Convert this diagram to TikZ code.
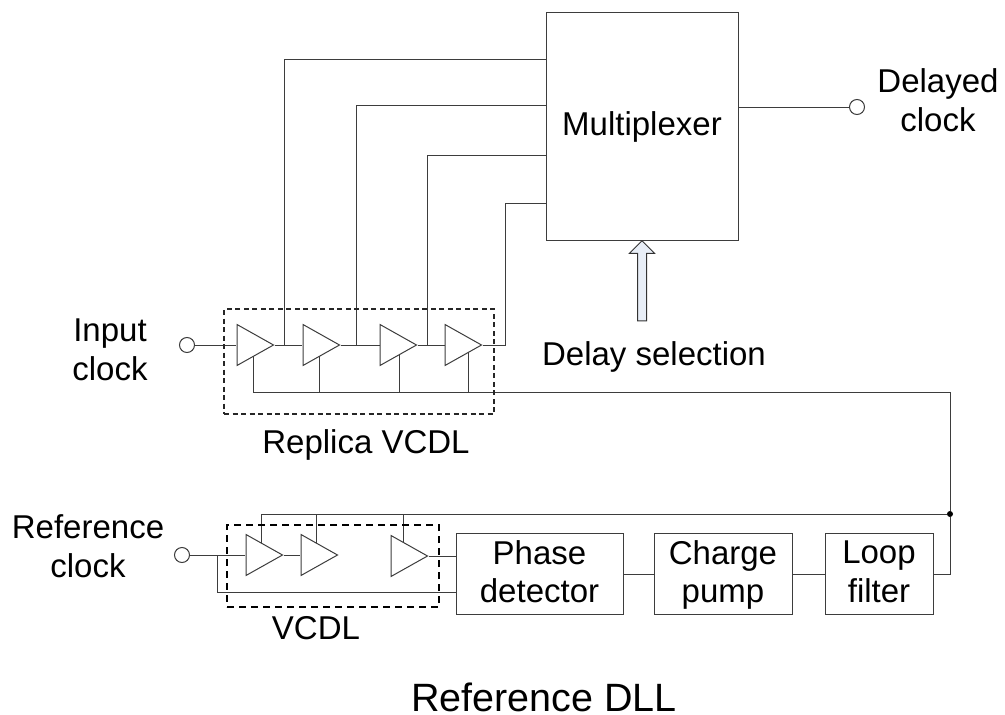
\documentclass[tikz,border=0pt]{standalone}
\usepackage{fontspec}
\setmainfont{Liberation Sans}
\usetikzlibrary{shapes.geometric,shapes.arrows}
\definecolor{arrowfill}{HTML}{E8EEF7}
\tikzset{
  x=1pt,y=-1pt,
  wire/.style={draw=black!76,line width=1pt},
  lbl/.style={inner sep=0pt,align=center,font=\fontsize{33}{38.5}\selectfont},
  block/.style={draw=black!76,line width=1pt,fill=white,inner sep=0pt,align=center,text depth=4pt,font=\fontsize{33}{38.5}\selectfont},
  buf/.style={isosceles triangle,isosceles triangle apex angle=60,isosceles triangle stretches,shape border rotate=0,draw=black!76,line width=1pt,inner sep=0pt,minimum width=41pt,minimum height=36.5pt,fill=white,anchor=apex},
  term/.style={circle,draw=black!76,line width=1pt,fill=white,inner sep=0pt,minimum size=15pt},
  dashbox/.style={draw=black!85,dash pattern=on 5pt off 3.5pt,fill=none,line width=1.2pt,inner sep=0pt},
  dashboxb/.style={draw=black,dash pattern=on 7pt off 5pt,fill=none,line width=1.8pt,inner sep=0pt},
  dot/.style={circle,fill=black,inner sep=0pt,minimum size=6pt},
}
\begin{document}
\begin{tikzpicture}
\useasboundingbox (0,0) rectangle (1005,715);
% blocks
\node[block,minimum width=192pt,minimum height=228pt] (mux) at (642,126) {};
\node[lbl] (muxt) at (642,126.5) {Multiplexer};
\node[block,minimum width=167pt,minimum height=81pt] (pd) at (539.5,573.5) {Phase\\detector};
\node[block,minimum width=138pt,minimum height=81pt] (cp) at (723,573.5) {Charge\\pump};
\node[block,minimum width=108pt,minimum height=81pt] (lf) at (879,573.5) {Loop\\filter};
% terminals
\node[term] (in) at (187,345) {};
\node[term] (out) at (857,107) {};
\node[term] (ref) at (182,555) {};
% replica buffers
\node[buf] (r1) at (274.5,345) {};
\node[buf] (r2) at (340.5,345) {};
\node[buf] (r3) at (417.5,345) {};
\node[buf] (r4) at (482.5,345) {};
% vcdl buffers
\node[buf] (v1) at (283.5,555) {};
\node[buf] (v2) at (338.5,555) {};
\node[buf] (v3) at (428.5,556) {};
% junctions and turning points
\coordinate (j1) at (284,345);
\coordinate (j2) at (356,345);
\coordinate (j3) at (427,345);
\coordinate (j4) at (505,345);
\coordinate (m1) at (546,59);
\coordinate (m2) at (546,105);
\coordinate (m3) at (546,155);
\coordinate (m4) at (546,203);
\coordinate (c1) at (253,392);
\coordinate (c2) at (319,392);
\coordinate (c3) at (399,392);
\coordinate (c4) at (468,392);
\coordinate (c5) at (950,392);
\coordinate (tp) at (950,574);
\coordinate (b0) at (217,555);
\coordinate (b1) at (456,592.5);
\coordinate (t1) at (261,514);
\coordinate (t2) at (316,514);
\coordinate (t3) at (403,514);
\node[dot] (jd) at (950,514) {};
% wiring
\draw[wire] (in) -- (r1.west |- in);
\draw[wire] (r1.east) -- (r2.west);
\draw[wire] (r2.east) -- (r3.west);
\draw[wire] (r3.east) -- (r4.west);
\draw[wire] (r4.east) -- (j4) |- (m4);
\draw[wire] (j1) |- (m1);
\draw[wire] (j2) |- (m2);
\draw[wire] (j3) |- (m3);
\draw[wire] (mux.east |- out) -- (out);
\draw[wire] (c1) ++(0,-36) -- (c1) -- (c5) -- (jd);
\draw[wire] (c2) -- ++(0,-36);
\draw[wire] (c3) -- ++(0,-37.5);
\draw[wire] (c4) -- ++(0,-40);
\draw[wire] (jd) -- (tp) -- (lf.east |- tp);
\draw[wire] (lf.west |- tp) -- (cp.east |- tp);
\draw[wire] (cp.west |- tp) -- (pd.east |- tp);
\draw[wire] (ref) -- (v1.west |- ref);
\draw[wire] (v1.east) -- (v2.west);
\draw[wire] (v3.east) -- (pd.west |- v3);
\draw[wire] (b0) -- (b0 |- b1) -- (b1);
\draw[wire] (t1) -- ++(0,29);
\draw[wire] (t2) -- ++(0,29);
\draw[wire] (t3) -- ++(0,29);
\draw[wire] (t1) -- (jd);
% dashed groups
\node[dashbox,minimum width=270pt,minimum height=105pt] (rg) at (359,361.5) {};
\node[dashboxb,minimum width=212pt,minimum height=82pt] (vg) at (333,566) {};
% selection arrow
\node[draw=black!80,line width=1pt,fill=arrowfill,single arrow,shape border rotate=90,single arrow head extend=8pt,single arrow tip angle=90,minimum height=80pt,inner sep=4pt] (sel) at (642,283) {};
% labels
\node[lbl] (l1) at (110,350) {Input\\clock};
\node[lbl] (l2) at (938,100) {Delayed\\clock};
\node[lbl] (l3) at (88,546) {Reference\\clock};
\node[lbl] (l4) at (654,357) {Delay selection};
\node[lbl] (l5) at (366,444.5) {Replica VCDL};
\node[lbl] (l6) at (316,628) {VCDL};
\node[lbl,font=\fontsize{39.5}{44}\selectfont] (l7) at (544,697) {Reference DLL};
\end{tikzpicture}
\end{document}
